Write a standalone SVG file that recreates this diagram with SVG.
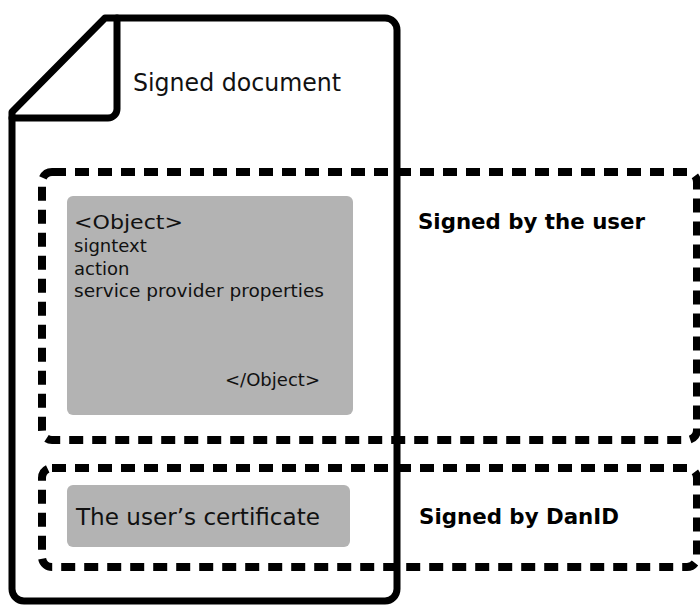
<svg xmlns="http://www.w3.org/2000/svg" width="700" height="605" viewBox="0 0 700 605">
  <style>
    .outline { fill: none; stroke: #000; stroke-width: 7; stroke-linejoin: round; stroke-linecap: round; }
    .zone { fill: none; stroke: #000; stroke-width: 8; stroke-dasharray: 14 9; }
    .panel { fill: #b3b3b3; }
    .title { font-family: "DejaVu Sans", "Liberation Sans", sans-serif; font-size: 24px; fill: #111; }
    .tag { font-family: "DejaVu Sans", "Liberation Sans", sans-serif; font-size: 20px; fill: #111; }
    .line { font-family: "DejaVu Sans", "Liberation Sans", sans-serif; font-size: 18px; fill: #111; }
    .cert { font-family: "DejaVu Sans", "Liberation Sans", sans-serif; font-size: 23px; fill: #111; }
    .label { font-family: "DejaVu Sans", "Liberation Sans", sans-serif; font-size: 21px; font-weight: bold; fill: #000; }
  </style>
  <rect width="700" height="605" fill="#fff"/>

  <!-- Document sheet with folded corner -->
  <g id="document">
    <path class="outline" d="M105,18 H385 A12,12 0 0 1 397,30 V589 A12,12 0 0 1 385,601 H24 A12,12 0 0 1 12,589 V112 L105,18 Z"/>
    <path class="outline" d="M117,18 V109 A9,9 0 0 1 108,118 H12"/>
    <text class="title" x="133" y="91" textLength="208" lengthAdjust="spacingAndGlyphs">Signed document</text>
  </g>

  <!-- Part signed by the user -->
  <g id="signed-by-user">
    <rect class="zone" x="42" y="172" width="655" height="268" rx="10"/>
    <text class="label" x="418" y="229" textLength="227" lengthAdjust="spacingAndGlyphs">Signed by the user</text>
  </g>

  <g id="object">
    <rect class="panel" x="67" y="196" width="286" height="219" rx="6"/>
    <text class="tag" x="74" y="229" textLength="109" lengthAdjust="spacingAndGlyphs">&lt;Object&gt;</text>
    <text class="line" x="74" y="252">signtext</text>
    <text class="line" x="74" y="275">action</text>
    <text class="line" x="74" y="297" textLength="250" lengthAdjust="spacingAndGlyphs">service provider properties</text>
    <text class="line" x="225" y="386" textLength="95" lengthAdjust="spacingAndGlyphs">&lt;/Object&gt;</text>
  </g>

  <!-- Part signed by DanID -->
  <g id="signed-by-danid">
    <rect class="zone" x="42" y="468" width="655" height="99" rx="10"/>
    <text class="label" x="419" y="524" textLength="200" lengthAdjust="spacingAndGlyphs">Signed by DanID</text>
  </g>

  <g id="certificate">
    <rect class="panel" x="67" y="485" width="283" height="62" rx="6"/>
    <text class="cert" x="76" y="525" textLength="244" lengthAdjust="spacingAndGlyphs">The user’s certificate</text>
  </g>
</svg>
